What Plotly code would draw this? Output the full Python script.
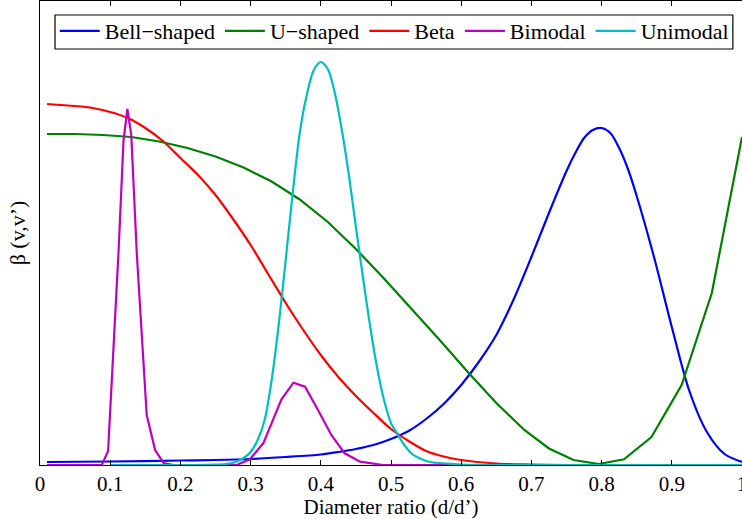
import plotly.graph_objects as go

# Diameter ratio grids and kernel values (arbitrary units)
x_bell = [0.01, 0.1, 0.2, 0.25, 0.3, 0.35, 0.4, 0.425, 0.45, 0.475, 0.5, 0.525, 0.55,
          0.575, 0.6, 0.625, 0.65, 0.675, 0.7, 0.725, 0.75, 0.7625, 0.775, 0.7875, 0.8,
          0.8125, 0.825, 0.8375, 0.85, 0.875, 0.9, 0.925, 0.95, 0.975, 1.0]
y_bell = [0.03, 0.035, 0.045, 0.05, 0.06, 0.08, 0.105, 0.13, 0.16, 0.20, 0.26, 0.34, 0.46,
          0.61, 0.80, 1.03, 1.30, 1.66, 2.08, 2.52, 2.94, 3.12, 3.27, 3.35, 3.37,
          3.32, 3.17, 2.96, 2.69, 2.07, 1.38, 0.74, 0.33, 0.11, 0.03]

x_u = [0.01, 0.05, 0.09, 0.13, 0.17, 0.21, 0.25, 0.29, 0.33, 0.37, 0.41, 0.45, 0.49,
       0.53, 0.57, 0.61, 0.65, 0.69, 0.725, 0.76, 0.796, 0.832, 0.871, 0.914, 0.957, 1.0]
y_u = [3.31, 3.31, 3.30, 3.28, 3.235, 3.17, 3.085, 2.975, 2.835, 2.655, 2.43, 2.16, 1.865,
       1.56, 1.245, 0.925, 0.62, 0.35, 0.165, 0.05, 0.01, 0.057, 0.28, 0.80, 1.72, 3.28]

x_beta = [0.01, 0.05, 0.075, 0.1, 0.125, 0.15, 0.175, 0.2, 0.225, 0.25, 0.275, 0.3, 0.325,
          0.35, 0.375, 0.4, 0.425, 0.45, 0.475, 0.5, 0.525, 0.55, 0.575, 0.6,
          0.65, 0.7, 0.75, 0.8, 0.9, 1.0]
y_beta = [3.61, 3.59, 3.57, 3.53, 3.47, 3.37, 3.24, 3.07, 2.90, 2.70, 2.46, 2.20, 1.91,
          1.62, 1.35, 1.10, 0.88, 0.69, 0.52, 0.36, 0.24, 0.14, 0.085, 0.05,
          0.015, 0.005, 0.0, 0.0, 0.0, 0.0]

x_bi = [0.01, 0.088, 0.097, 0.112, 0.119, 0.1245, 0.13, 0.138, 0.152, 0.164, 0.176, 0.19,
        0.28, 0.299, 0.318, 0.344, 0.361, 0.3775, 0.396, 0.415, 0.434, 0.456, 0.489, 1.0]
y_bi = [0.0, 0.0, 0.14, 2.15, 3.25, 3.56, 3.30, 2.10, 0.50, 0.15, 0.02, 0.0,
        0.0, 0.057, 0.217, 0.657, 0.823, 0.783, 0.55, 0.30, 0.117, 0.033, 0.0, 0.0]

x_uni = [0.1, 0.2, 0.25, 0.27, 0.28, 0.29, 0.3, 0.31, 0.32, 0.33, 0.34, 0.35, 0.36, 0.37,
         0.38, 0.39, 0.4, 0.41, 0.42, 0.43, 0.44, 0.45, 0.46, 0.47, 0.48, 0.49, 0.5,
         0.51, 0.52, 0.53, 0.54, 0.55, 0.56, 0.58, 0.6, 0.65, 1.0]
y_uni = [0.0, 0.0, 0.003, 0.015, 0.035, 0.07, 0.13, 0.25, 0.45, 0.85, 1.40, 2.05, 2.72, 3.32,
         3.70, 3.95, 4.03, 3.96, 3.72, 3.35, 2.90, 2.38, 1.88, 1.40, 0.98, 0.65, 0.42,
         0.30, 0.19, 0.11, 0.07, 0.04, 0.025, 0.015, 0.005, 0.0, 0.0]

tick_vals = [0, 0.1, 0.2, 0.3, 0.4, 0.5, 0.6, 0.7, 0.8, 0.9, 1.0]
tick_text = ["0", "0.1", "0.2", "0.3", "0.4", "0.5", "0.6", "0.7", "0.8", "0.9", "1"]

FONT = "Times New Roman, Liberation Serif, serif"
FS = 22

series = [
    ("Bell\u2212shaped", x_bell, y_bell, "#0000ff", "spline"),
    ("U\u2212shaped", x_u, y_u, "#008000", "linear"),
    ("Beta", x_beta, y_beta, "#ff0000", "spline"),
    ("Bimodal", x_bi, y_bi, "#bf00bf", "linear"),
    ("Unimodal", x_uni, y_uni, "#00bfbf", "spline"),
]

fig = go.Figure()
for name, xs, ys, color, shape in series:
    line = dict(color=color, width=2.2, shape=shape)
    if shape == "spline":
        line["smoothing"] = 0.8
    fig.add_trace(go.Scatter(x=xs, y=ys, mode="lines", name=name, line=line))

# framed white box behind the legend entries
fig.add_shape(
    type="rect", xref="paper", yref="paper",
    x0=0.0214, x1=0.987, y0=0.8966, y1=0.9698,
    line=dict(color="black", width=1.2), fillcolor="white", layer="above",
)

fig.update_layout(
    width=742, height=519,
    margin=dict(l=40, r=0, t=1, b=54),
    paper_bgcolor="white", plot_bgcolor="white",
    font=dict(family=FONT, size=FS, color="black"),
    showlegend=True,
    legend=dict(
        orientation="h", x=0.021, y=0.9806, xanchor="left", yanchor="top",
        bgcolor="rgba(0,0,0,0)", borderwidth=0,
        font=dict(family=FONT, size=FS, color="black"),
        itemwidth=40, tracegroupgap=0,
    ),
)
fig.update_xaxes(
    range=[0, 1], tickvals=tick_vals, ticktext=tick_text,
    ticks="inside", ticklen=5, tickcolor="black", tickwidth=1,
    showline=True, linecolor="black", linewidth=1, mirror="ticks",
    showgrid=False, zeroline=False, ticklabeloverflow="allow", automargin=False,
    tickfont=dict(family=FONT, size=21),
    title=dict(text="Diameter ratio (d/d\u2019)", font=dict(family=FONT, size=21), standoff=2),
)
fig.update_yaxes(
    range=[0, 4.64], showticklabels=False, ticks="", automargin=False,
    showline=True, linecolor="black", linewidth=1, mirror=True,
    showgrid=False, zeroline=False,
    title=dict(text="\u03b2 (v,v\u2019)", font=dict(family=FONT, size=FS), standoff=7),
)

fig.write_html("out.html")
